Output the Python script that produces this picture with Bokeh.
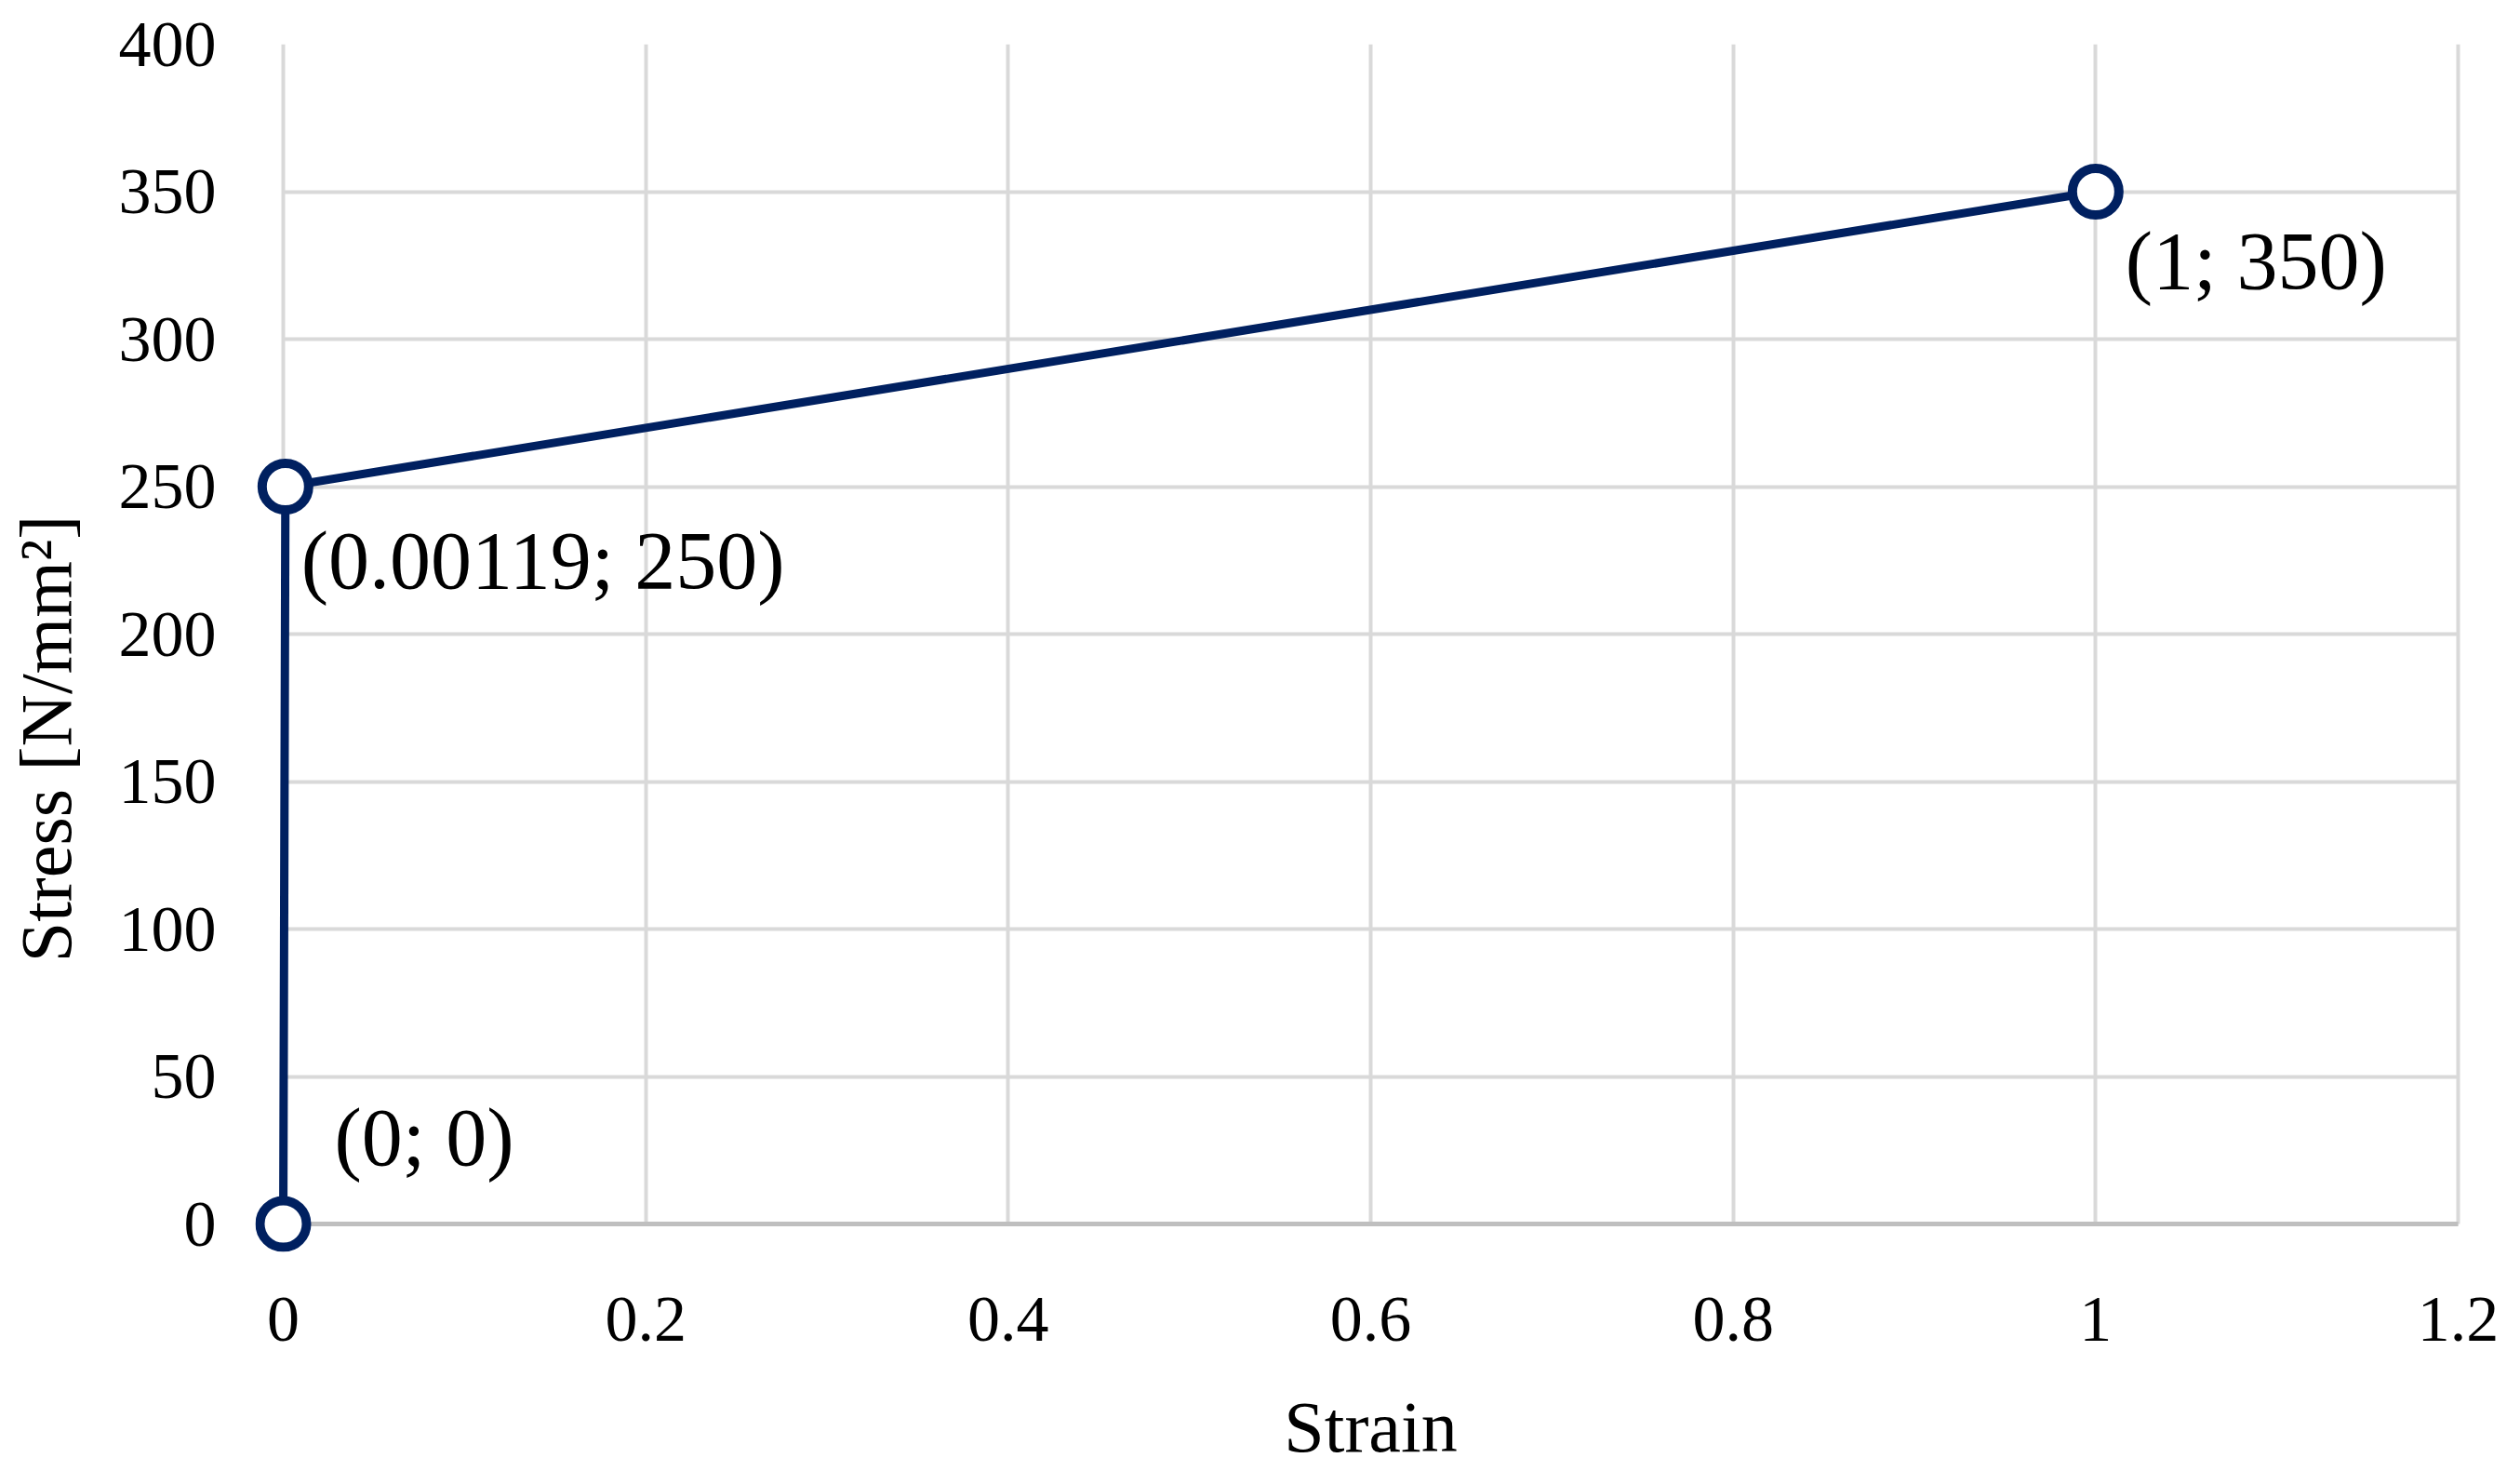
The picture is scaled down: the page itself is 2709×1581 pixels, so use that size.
from bokeh.plotting import figure
from bokeh.models import ColumnDataSource, LabelSet, Range1d, FixedTicker, Grid
from bokeh.embed import file_html
from bokeh.resources import INLINE

# Data
strain = [0, 0.00119, 1]
stress = [0, 250, 350]
x_ticks = [0, 0.2, 0.4, 0.6, 0.8, 1.0, 1.2]
y_ticks = [0, 50, 100, 150, 200, 250, 300, 350, 400]
labels = ["(0; 0)", "(0.00119; 250)", "(1; 350)"]
x_title = "Strain"
y_title = "Stress [N/mm²]"

FONT = "Liberation Serif"
NAVY = "#002060"

# layout (pixels)
W, H = 2700, 1581
X0, X1 = 304, 2642      # pixel of first / last x tick
Y_TOP, Y0 = 47, 1315    # pixel of last / first y tick
PAD = 30                # room so origin markers are not clipped
x_max, y_max = x_ticks[-1], y_ticks[-1]
pad_x = PAD * x_max / (X1 - X0)
pad_y = PAD * y_max / (Y0 - Y_TOP)

p = figure(width=W, height=H, output_backend="svg", toolbar_location=None,
           x_range=Range1d(-pad_x, x_max + pad_x), y_range=Range1d(-pad_y, y_max),
           min_border_left=X0 - PAD, min_border_right=W - X1 - PAD, min_border_top=Y_TOP,
           min_border_bottom=H - Y0 - PAD)
p.outline_line_color = None
p.background_fill_color = "white"
p.border_fill_color = "white"

# grid
p.xgrid.ticker = FixedTicker(ticks=x_ticks)
p.ygrid.ticker = FixedTicker(ticks=y_ticks)
p.xgrid.cross_bounds = (0, y_max)
p.ygrid.cross_bounds = (0, x_max)
for g in (p.xgrid, p.ygrid):
    g.grid_line_color = "#d9d9d9"
    g.grid_line_width = 4
base = Grid(dimension=1, ticker=FixedTicker(ticks=[0]), cross_bounds=(0, x_max),
            grid_line_color="#bfbfbf", grid_line_width=5)
p.add_layout(base)

# axes
p.xaxis.ticker = FixedTicker(ticks=x_ticks)
p.yaxis.ticker = FixedTicker(ticks=y_ticks)
p.xaxis.major_label_overrides = {0: "0", 0.2: "0.2", 0.4: "0.4", 0.6: "0.6", 0.8: "0.8", 1.0: "1", 1.2: "1.2"}
for ax in (p.xaxis, p.yaxis):
    ax.axis_line_color = None
    ax.major_tick_line_color = None
    ax.minor_tick_line_color = None
    ax.major_tick_in = 0
    ax.major_tick_out = 0
    ax.minor_tick_in = 0
    ax.minor_tick_out = 0
    ax.major_label_text_font = FONT
    ax.major_label_text_font_size = "70px"
    ax.major_label_text_color = "black"
    ax.axis_label_text_font = FONT
    ax.axis_label_text_font_size = "78px"
    ax.axis_label_text_font_style = "normal"
    ax.axis_label_text_color = "black"
p.xaxis.major_label_standoff = 49
p.yaxis.major_label_standoff = 42
p.xaxis.axis_label = x_title
p.xaxis.axis_label_standoff = 46
# trailing no-break spaces move the (centred) title down, as in the original
p.yaxis.axis_label = y_title + "\u00a0" * 10
p.yaxis.axis_label_standoff = 32

src = ColumnDataSource(dict(x=strain, y=stress))
p.line("x", "y", source=src, line_color=NAVY, line_width=9)
p.scatter("x", "y", source=src, size=50, marker="circle", fill_color="white",
          line_color=NAVY, line_width=10)

# point labels (offsets in screen pixels)
x_off = [55, 17, 32]
y_off = [93, -79, -74]
lsrc = ColumnDataSource(dict(x=strain, y=stress, text=labels, xo=x_off, yo=y_off))
ls = LabelSet(x="x", y="y", text="text", source=lsrc, x_offset="xo", y_offset="yo",
              text_font=FONT, text_font_size="88px", text_color="black",
              text_baseline="middle", text_align="left")
p.add_layout(ls)

open("out.html", "w").write(file_html(p, INLINE))
